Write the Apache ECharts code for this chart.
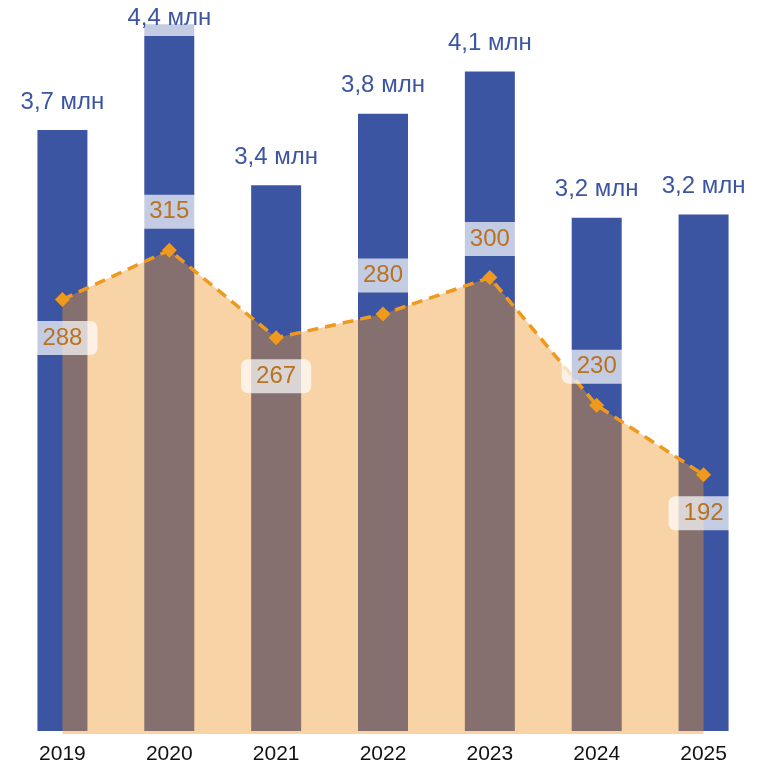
<!DOCTYPE html>
<html>
<head>
<meta charset="utf-8">
<script src="https://cdn.jsdelivr.net/npm/echarts@6/dist/echarts.min.js"></script>
<style>
html,body{margin:0;padding:0;background:#fff;}
#chart{width:771px;height:765px;}
</style>
</head>
<body>
<div id="chart"></div>
<script>
const years = ['2019','2020','2021','2022','2023','2024','2025'];
const barValues = [3.70, 4.35, 3.36, 3.80, 4.06, 3.16, 3.18];
const lineValues = [288, 315, 267, 280, 300, 230, 192];

const chart = echarts.init(document.getElementById('chart'));
const FONT = 'Liberation Sans, Arial, sans-serif';

function isLocalMin(i) {
  const v = lineValues[i];
  const l = i > 0 ? lineValues[i - 1] : Infinity;
  const r = i < lineValues.length - 1 ? lineValues[i + 1] : Infinity;
  return v < l && v < r;
}

const lineData = lineValues.map((v, i) => ({
  value: v,
  label: { position: isLocalMin(i) ? 'bottom' : 'top' }
}));

chart.setOption({
  animation: false,
  grid: [
    { left: 9, right: 14, top: 0, bottom: 34 },
    { left: 9, right: 14, top: 95, bottom: 31 }
  ],
  xAxis: [
    {
      type: 'category', data: years, gridIndex: 0,
      axisLine: { show: false }, axisTick: { show: false },
      axisLabel: { fontSize: 21, color: '#111', fontFamily: FONT, margin: 13 }
    },
    {
      type: 'category', data: years, gridIndex: 1, show: false
    }
  ],
  yAxis: [
    { type: 'value', gridIndex: 0, min: 0, max: 4.5, show: false, splitLine: { show: false } },
    { type: 'value', gridIndex: 1, min: 50, max: 400, show: false, splitLine: { show: false } }
  ],
  series: [
    {
      type: 'bar', xAxisIndex: 0, yAxisIndex: 0, data: barValues,
      barWidth: 50, z: 2,
      itemStyle: { color: '#3B55A3' },
      label: {
        show: true, position: 'top', distance: 10,
        formatter: p => (Math.round(p.value * 10) / 10).toFixed(1).replace('.', ',') + ' млн',
        fontSize: 24, color: '#3B55A3', fontFamily: FONT,
        backgroundColor: 'rgba(255,255,255,0.7)', padding: [6, 6]
      },
      labelLayout: function (p) {
        if (p.labelRect.y < 0) return { dy: -p.labelRect.y };
        return {};
      }
    },
    {
      type: 'line', xAxisIndex: 1, yAxisIndex: 1, data: lineData, z: 3,
      symbol: 'diamond', symbolSize: 15,
      lineStyle: { color: '#EF9A1E', width: 3.5, type: [11, 7] },
      itemStyle: { color: '#EF9A1E' },
      areaStyle: { color: 'rgb(236,149,41)', opacity: 0.42 },
      label: {
        show: true, distance: 14,
        fontSize: 24, color: '#B8731F', fontFamily: FONT,
        backgroundColor: 'rgba(255,255,255,0.7)', padding: [5, 15], borderRadius: 7
      }
    }
  ]
});
</script>
</body>
</html>
